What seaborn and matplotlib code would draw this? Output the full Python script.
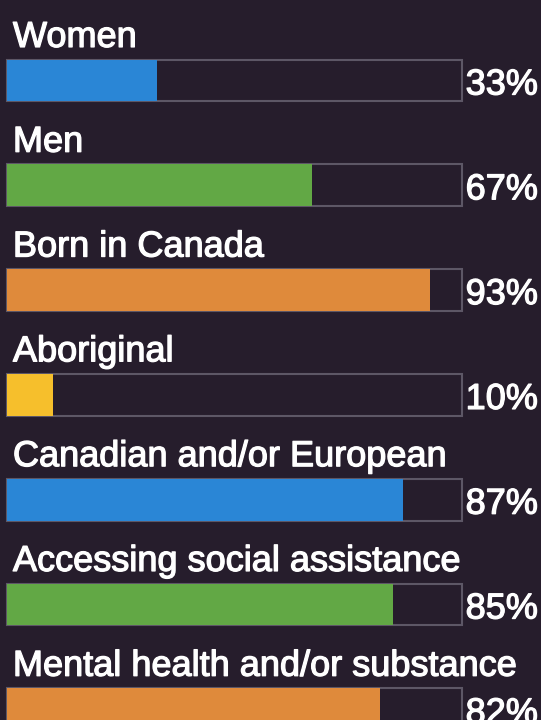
import matplotlib
matplotlib.use('Agg')
import matplotlib.pyplot as plt
import matplotlib.patheffects as pe
import seaborn as sns
import pandas as pd

# Data
categories = ['Women', 'Men', 'Born in Canada', 'Aboriginal',
              'Canadian and/or European', 'Accessing social assistance',
              'Mental health and/or substance']
values = [33, 67, 93, 10, 87, 85, 82]
track_max = [100, 100, 100, 100, 100, 100, 100]
bar_colors = ['#2a86d6', '#62a845', '#df8a3b', '#f6bf2c',
              '#2a86d6', '#62a845', '#df8a3b']

BG = '#261d2c'
OUTLINE = '#5d5766'

sns.set_style('dark')
plt.rcParams['font.family'] = ['Liberation Sans', 'DejaVu Sans']

df = pd.DataFrame({'label': categories, 'value': values, 'track': track_max})

fig = plt.figure(figsize=(5.41, 7.2), dpi=100, facecolor=BG)
ax = fig.add_axes([0, 0, 1, 1])
ax.set_facecolor(BG)

# empty track with thin grey outline
sns.barplot(data=df, y='label', x='track', orient='h', color=BG,
            saturation=1, edgecolor=OUTLINE, linewidth=1.5, width=0.40,
            ax=ax)
# filled part
sns.barplot(data=df, y='label', x='value', orient='h', hue='label',
            palette=bar_colors, saturation=1, legend=False, width=0.40,
            linewidth=0, ax=ax)

thick = [pe.withStroke(linewidth=0.9, foreground='white')]
for i, (lab, v) in enumerate(zip(categories, values)):
    ax.text(1.2, i - 0.32, lab, color='white', fontsize=26,
            ha='left', va='baseline', path_effects=thick)
    ax.text(100.9, i + 0.134, f'{v}%', color='white', fontsize=26,
            ha='left', va='baseline', path_effects=thick)

ax.set_xlim(-1.65, 117.5)
ax.set_ylim(6.102, -0.768)
ax.set_xlabel('')
ax.set_ylabel('')
ax.set_xticks([])
ax.set_yticks([])
ax.grid(False)
for s in ax.spines.values():
    s.set_visible(False)

fig.savefig('out.png', dpi=100, facecolor=BG)
